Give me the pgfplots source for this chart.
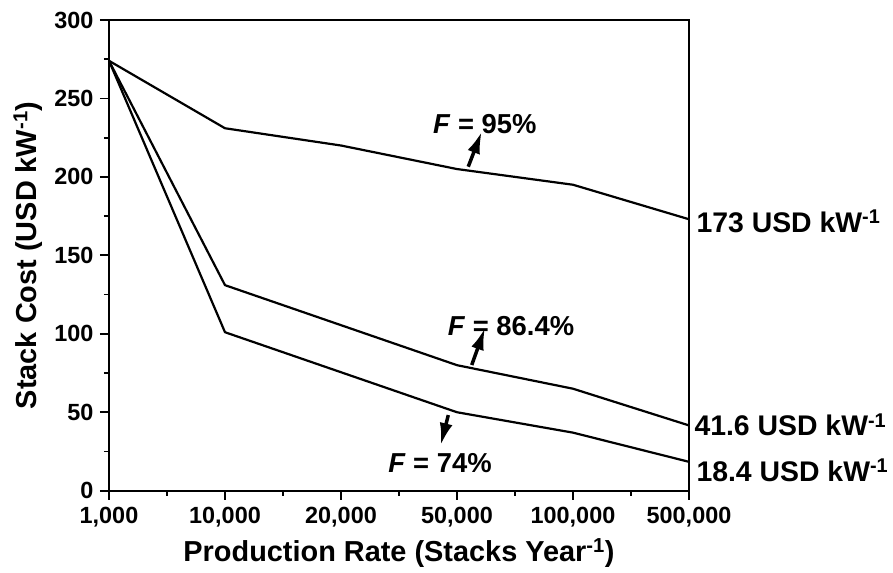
\documentclass[border=0pt]{standalone}
\usepackage{fontspec}
\setmainfont{Liberation Sans}
\usepackage{pgfplots}
\pgfplotsset{compat=1.18}
\usetikzlibrary{arrows.meta}
\begin{document}
\begin{tikzpicture}[x=1bp,y=1bp]
\useasboundingbox (-109,-82.3) rectangle (784,490.7);
\begin{axis}[
 at={(0,0)}, anchor=south west,
 scale only axis, width=580bp, height=470.7bp,
 xmin=0, xmax=5, ymin=0, ymax=300,
 xtick={0,1,2,3,4,5},
 xticklabels={{1,000},{10,000},{20,000},{50,000},{100,000},{500,000}},
 ytick={0,50,100,150,200,250,300},
 minor x tick num=1, minor y tick num=1,
 tick align=outside, xtick pos=bottom, ytick pos=left,
 major tick length=9bp, minor tick length=5bp,
 tick style={line width=1.8bp, black},
 axis line style={line width=2bp},
 ticklabel style={font=\fontsize{23.5}{27}\selectfont\bfseries},
 yticklabel style={xshift=-3bp},
 xticklabel style={yshift=-4bp},
 /pgf/number format/assume math mode=true,
 label style={font=\fontsize{29}{33}\selectfont\bfseries},
 xlabel={Production Rate (Stacks Year\textsuperscript{-1})},
 ylabel={Stack Cost (USD kW\textsuperscript{-1})},
 xlabel style={at={(axis description cs:0.5,-0.132)}, anchor=center},
 ylabel style={at={(axis description cs:-0.14,0.5)}, anchor=center},
 clip=false,
]
\addplot[line width=2.2bp, line join=round, black] coordinates {(0,274)(1,231)(2,220)(3,205)(4,195)(5,173)};
\addplot[line width=2.2bp, line join=round, black] coordinates {(0,274)(1,131)(2,105.5)(3,80)(4,65)(5,41.6)};
\addplot[line width=2.2bp, line join=round, black] coordinates {(0,274)(1,101)(2,75.5)(3,50)(4,37)(5,18.4)};

\node[font=\fontsize{27.5}{31}\selectfont\bfseries, anchor=base] at (axis cs:3.24,227.5) {\textit{F} = 95\%};
\node[font=\fontsize{27.5}{31}\selectfont\bfseries, anchor=base] at (axis cs:3.466,99.2) {\textit{F} = 86.4\%};
\node[font=\fontsize{27.5}{31}\selectfont\bfseries, anchor=base] at (axis cs:2.853,11.9) {\textit{F} = 74\%};

\draw[line width=3.5bp, -{Latex[length=22bp,width=13bp]}] (axis cs:3.097,206.5) -- (axis cs:3.213,228.8);
\draw[line width=3.5bp, -{Latex[length=22bp,width=13bp]}] (axis cs:3.127,80.1) -- (axis cs:3.241,103.7);
\draw[line width=3.5bp, -{Latex[length=22bp,width=13bp]}] (axis cs:2.925,48.2) -- (axis cs:2.86,29.1);

\node[anchor=west, font=\fontsize{28.5}{32}\selectfont\bfseries, xshift=4bp] at (axis cs:5,172) {173 USD kW\textsuperscript{-1}};
\node[anchor=west, font=\fontsize{28.5}{32}\selectfont\bfseries, xshift=2bp] at (axis cs:5,42) {41.6 USD kW\textsuperscript{-1}};
\node[anchor=west, font=\fontsize{28.5}{32}\selectfont\bfseries, xshift=4bp] at (axis cs:5,13) {18.4 USD kW\textsuperscript{-1}};
\end{axis}
\end{tikzpicture}
\end{document}
